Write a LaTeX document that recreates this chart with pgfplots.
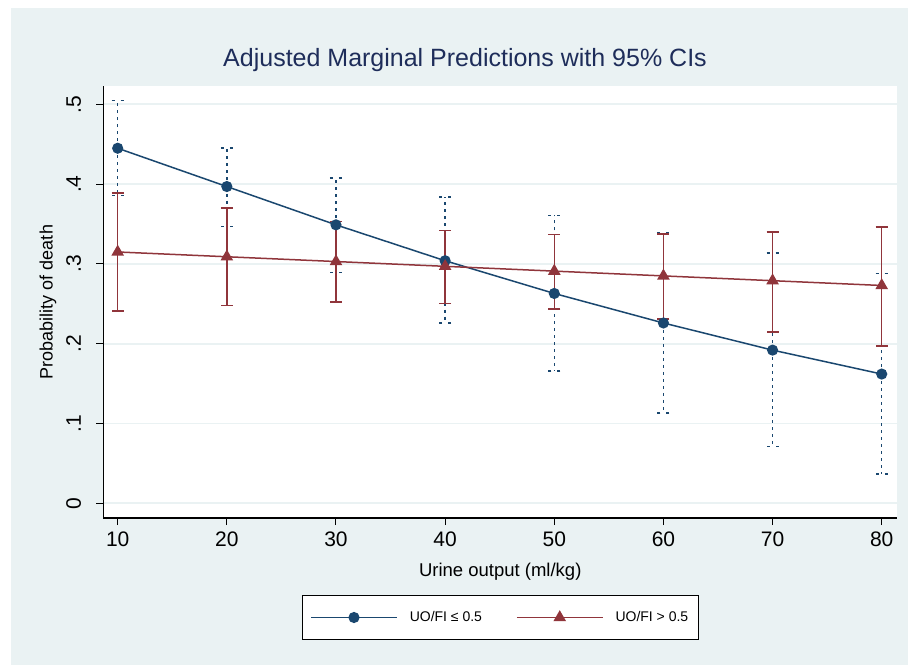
\documentclass[border=0pt]{standalone}
\usepackage{fontspec}
\setmainfont{Liberation Sans}
\usepackage{pgfplots}
\pgfplotsset{compat=1.18}
\usepackage{pgfplotstable}
\definecolor{stnavy}{RGB}{26,71,111}
\definecolor{stmaroon}{RGB}{144,53,59}
\definecolor{stbg}{RGB}{234,242,243}
\definecolor{sttitle}{RGB}{30,45,90}

\pgfplotstableread{
x y lo hi
10 0.445 0.386 0.505
20 0.397 0.347 0.445
30 0.349 0.289 0.408
40 0.304 0.226 0.384
50 0.263 0.166 0.361
60 0.226 0.1135 0.3385
70 0.192 0.071 0.314
80 0.162 0.037 0.288
}\lowtab

\pgfplotstableread{
x y lo hi
10 0.315 0.241 0.389
20 0.309 0.248 0.370
30 0.303 0.252 0.353
40 0.297 0.2506 0.3416
50 0.291 0.2435 0.3366
60 0.285 0.231 0.3375
70 0.279 0.215 0.340
80 0.273 0.197 0.3466
}\hightab

\begin{document}
\begin{tikzpicture}[x=1pt,y=1pt]
\fill[white] (0,0) rectangle (908,665);
\fill[stbg] (11,0) rectangle (908,657);
\begin{axis}[
  at={(103.5pt,147pt)}, anchor=south west,
  scale only axis, width=793.5pt, height=432pt,
  xmin=8.70, xmax=81.4, ymin=-0.0184, ymax=0.523,
  axis lines*=left,
  axis line style={black, line width=1.2pt},
  axis background/.style={fill=white},
  xtick={10,20,...,80},
  ytick={0,0.1,0.2,0.3,0.4,0.5},
  yticklabels={0,.1,.2,.3,.4,.5},
  tick align=outside, major tick length=7pt,
  tick style={black, line width=1pt},
  ymajorgrids, grid style={stbg, line width=1.8pt},
  /pgf/number format/assume math mode=true,
  ticklabel style={font=\fontsize{21}{25}\selectfont},
  xticklabel style={yshift=-3pt},
  yticklabel style={xshift=-12pt, rotate=90, anchor=south},
  title={Adjusted Marginal Predictions with 95\% CIs},
  title style={at={(axis description cs:0.4556,1.067)}, anchor=center, yshift=-9pt, font=\fontsize{25}{30}\selectfont, color=sttitle},
  xlabel={Urine output (ml/kg)},
  xlabel style={at={(axis description cs:0.5,-0.124)}, anchor=center, font=\fontsize{18.5}{22}\selectfont},
  ylabel={Probability of death},
  ylabel style={at={(axis description cs:-0.0699,0.5)}, anchor=center, font=\fontsize{18}{22}\selectfont},
  legend columns=2,
  legend style={at={(axis description cs:0.5,-0.2303)}, anchor=center, draw=black, line width=1pt, fill=white,
    font=\fontsize{14}{17}\selectfont, inner xsep=8pt, inner ysep=14pt,
    /tikz/every odd column/.append style={column sep=10pt},
    /tikz/every even column/.append style={column sep=32pt}},
  legend image code/.code={\draw[mark repeat=2,mark phase=2] plot coordinates {(0pt,0pt) (43pt,0pt) (86pt,0pt)};},
]
\addplot[stnavy, line width=1.5pt, mark=*, mark size=4.8pt, mark options={solid},
  error bars/.cd, y dir=both, y explicit,
  error bar style={line width=1.5pt, dash pattern=on 3pt off 4pt},
  error mark options={rotate=90, mark size=6pt, line width=1.5pt, dash pattern=on 3pt off 6pt}]
  table[x=x, y=y, y error plus expr=\thisrow{hi}-\thisrow{y}, y error minus expr=\thisrow{y}-\thisrow{lo}] {\lowtab};
\addlegendentry{UO/FI ≤ 0.5}
\addplot[stmaroon, line width=1.5pt, mark=triangle*, mark size=5.8pt, mark options={solid},
  error bars/.cd, y dir=both, y explicit,
  error bar style={line width=1.5pt, solid},
  error mark options={rotate=90, mark size=6pt, line width=1.5pt, solid}]
  table[x=x, y=y, y error plus expr=\thisrow{hi}-\thisrow{y}, y error minus expr=\thisrow{y}-\thisrow{lo}] {\hightab};
\addlegendentry{UO/FI > 0.5}
\end{axis}
\end{tikzpicture}
\end{document}
